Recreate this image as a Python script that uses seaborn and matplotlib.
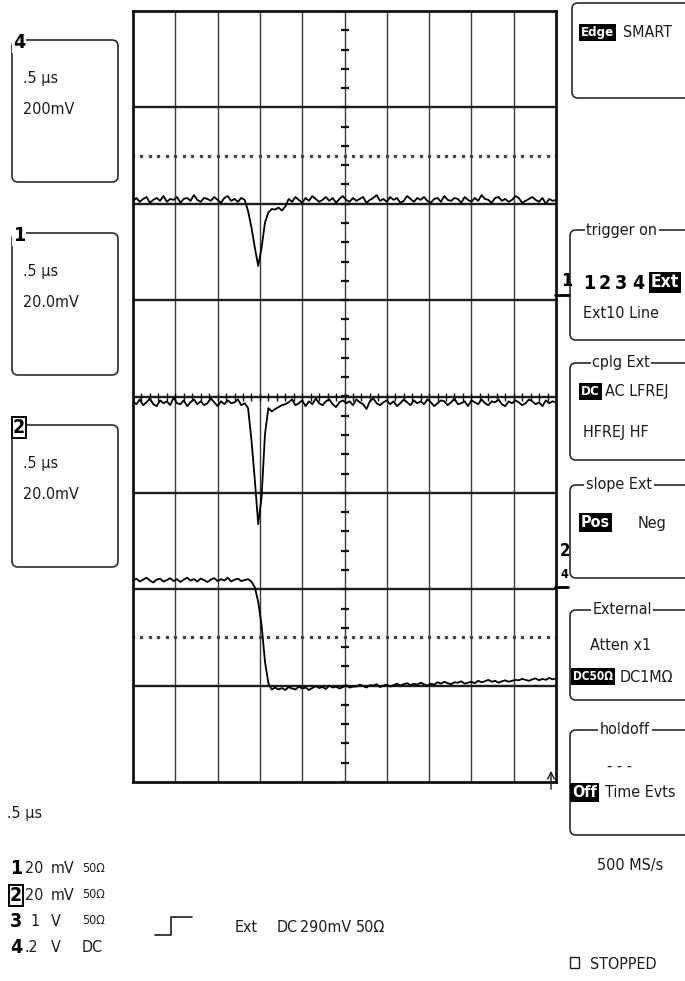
import numpy as np
import matplotlib
matplotlib.use("Agg")
import matplotlib.pyplot as plt
from matplotlib.patches import FancyBboxPatch, Rectangle
from matplotlib.collections import LineCollection
import seaborn as sns

sns.set_theme(style="white")
plt.rcParams["font.family"] = ["DejaVu Sans"]
plt.rcParams["font.stretch"] = "condensed"

# ---- acquisition settings -------------------------------------------------
TIME_PER_DIV_US = 0.5
N_DIV_X, N_DIV_Y = 10, 8

# ---- captured traces (mV, one sample every 0.04 us) -----------------------
ch4_mv = [6, 12, 4, 10, 14, 2, 8, 12, 6, 16, 4, 10, 8, 14, 2, 10, 12, 6, 18, 8,
          4, 12, 10, 6, 14, 8, 2, 12, 16, 6, 10, 4, 12, 8,
          -15, -49, -91, -129, -91, -39, -18, -11, -12, -8, -14, -6,
          10, 4, 14, 8, 2, 12, 6, 16, 10, 4, 8, 14, 6, 12, 2, 10, 16, 8, 4, 12,
          6, 10, 14, 2, 8, 12, 18, 6, 10, 4, 14, 8, 12, 2, 6, 16, 10, 4, 12, 8,
          14, 6, 2, 10, 12, 4, 16, 8, 6, 12, 10, 2, 14, 8, 4, 12, 6, 18, 10, 8,
          2, 12, 14, 6, 10, 4, 8, 16, 12, 2, 6, 10, 14, 8, 4, 12, 0, 10, 6, 8]

ch1_mv = [-1.0, -1.6, -0.6, -1.8, -1.2, -0.4, -1.6, -2.0, -0.8, -1.4,
          -1.0, -1.8, -0.2, -1.4, -1.6, -0.8, -2.0, -1.2, -0.6, -1.6,
          -1.0, -1.8, -1.4, -0.4, -1.2, -2.0, -1.0, -1.6, -0.8, -1.4,
          -1.2, -0.6, -1.8, -1.4,
          -2.4, -9.0, -17.3, -26.5, -20.8, -7.8, -2.4, -3.1, -2.6, -2.2, -1.8, -1.6,
          -1.2, -0.6, -1.8, -1.4, -0.8, -2.0, -1.0, -1.6, -0.4, -1.4,
          -1.8, -1.0, -0.6, -1.6, -2.2, -1.2, -0.8, -1.4, -1.0, -1.8,
          -0.6, -1.2, -1.6, -2.6, -1.0, -0.4, -1.4, -1.8, -1.2, -0.8,
          -1.6, -1.0, -2.0, -1.4, -0.6, -1.2, -1.8, -0.8, -1.4, -1.0,
          -1.6, -0.6, -1.2, -2.0, -1.4, -0.8, -1.0, -1.8, -1.2, -0.4,
          -1.6, -1.4, -1.0, -2.0, -0.8, -1.2, -1.6, -0.6, -1.4, -1.8,
          -1.0, -1.2, -0.6, -1.6, -2.0, -1.0, -1.4, -0.8, -1.2, -1.8,
          -1.4, -0.6, -1.0, -1.6, -1.2, -2.0, -0.8, -1.4, -1.0, -1.2]

ch2_mv = [1.8, 2.2, 1.6, 2.0, 2.4, 1.8, 1.4, 2.0, 2.2, 1.6,
          1.9, 2.3, 1.7, 2.1, 1.5, 2.0, 2.4, 1.8, 2.1, 1.6,
          2.2, 1.9, 1.5, 2.0, 2.3, 1.7, 2.1, 1.8, 2.4, 1.6,
          2.0, 2.2, 1.7, 1.9, 2.1,
          1.6, 0.4, -2.6, -7.5, -15.0, -19.5, -20.8,
          -20.4, -20.8, -20.5, -20.9, -20.3, -20.6, -20.8, -20.2, -20.6, -20.4, -20.9, -20.5,
          -20.1, -20.5, -20.3, -20.7, -20.0, -20.4, -20.2, -20.6, -20.3, -19.9, -20.4, -20.2,
          -20.2, -19.8, -20.1, -20.4, -19.9, -20.0, -19.7, -20.3, -20.0, -19.8, -20.2, -19.9,
          -19.6, -20.0, -19.7, -19.5, -19.9, -19.6, -19.8, -19.4, -19.7, -20.0, -19.6, -19.8,
          -19.3, -19.6, -19.2, -19.5, -19.7, -19.3, -19.4, -19.1, -19.6, -19.4, -19.2, -19.5,
          -19.0, -19.3, -19.1, -18.8, -19.2, -19.0, -19.4, -19.1, -18.9, -19.2, -19.0, -18.8,
          -18.9, -18.6, -18.8, -19.0, -18.7, -18.5, -18.9, -18.6, -18.8, -18.4, -18.7, -18.5]

traces = {"4": ch4_mv, "1": ch1_mv, "2": ch2_mv}
mv_per_div = {"4": 200.0, "1": 20.0, "2": 20.0}
offset_div = {"4": 2.0, "1": 0.0, "2": -2.0}

t_us = np.linspace(0, TIME_PER_DIV_US * N_DIV_X, len(ch4_mv))

# ---- figure / layout (pixel based) ----------------------------------------
W, H = 685, 981
fig = plt.figure(figsize=(W / 100, H / 100), dpi=100, facecolor="white")

gx0, gy0, gx1, gy1 = 133, 11, 556, 782
ax = fig.add_axes([gx0 / W, 1 - gy1 / H, (gx1 - gx0) / W, (gy1 - gy0) / H])
ax.set_facecolor("white")
xmax = TIME_PER_DIV_US * N_DIV_X
ax.set_xlim(0, xmax)
ax.set_ylim(-N_DIV_Y / 2, N_DIV_Y / 2)
px_x = (gx1 - gx0) / xmax          # pixels per microsecond
px_y = (gy1 - gy0) / N_DIV_Y       # pixels per division

# graticule
for i in range(1, N_DIV_X):
    ax.axvline(i * TIME_PER_DIV_US, color="#3a3a3a", lw=1.0, zorder=1)
for j in range(-3, 4):
    ax.axhline(j, color="#1e1e1e", lw=1.7, zorder=1)
dots_x = np.arange(0, xmax + 1e-9, TIME_PER_DIV_US / 5)
for yd in (2.5, -2.5):
    ax.plot(dots_x, np.full_like(dots_x, yd), ls="none", marker="s",
            ms=1.4, color="#444444", zorder=1)

# center-axis minor ticks
xc = xmax / 2
dx = 4 / px_x
dy = 4 / px_y
vt = [[(xc - dx, y), (xc + dx, y)] for y in np.arange(-4, 4.0001, 0.2)]
ht = [[(x, -dy), (x, dy)] for x in np.arange(0, xmax + 1e-9, TIME_PER_DIV_US / 5)]
ax.add_collection(LineCollection(vt, colors="#111111", linewidths=1.6, zorder=2))
ax.add_collection(LineCollection(ht, colors="#111111", linewidths=1.0, zorder=2))

for ch, vals in traces.items():
    y = offset_div[ch] + np.asarray(vals) / mv_per_div[ch]
    sns.lineplot(x=t_us, y=y, ax=ax, color="black", lw=1.3,
                 estimator=None, sort=False, zorder=3)

ax.set(xlabel="", ylabel="", xticks=[], yticks=[])
for s in ax.spines.values():
    s.set_visible(True)
    s.set_color("#111111")
    s.set_linewidth(2.0)

# ---- overlay for panels and readouts --------------------------------------
ov = fig.add_axes([0, 0, 1, 1], zorder=5)
ov.set_xlim(0, W)
ov.set_ylim(H, 0)
ov.axis("off")
ov.patch.set_alpha(0)

FS = 11.5
INK = "#1c1c1c"


def txt(x, yc, s, size=FS, weight="normal", color=INK, ha="left", **kw):
    cap = 0.72 * size * 100 / 72
    return ov.text(x, yc + cap / 2, s, fontsize=size, fontweight=weight,
                   color=color, ha=ha, va="baseline", **kw)


def inv(x, yc, s, size=FS, weight="bold"):
    return txt(x, yc, s, size=size, weight=weight, color="white",
               bbox=dict(fc="black", ec="none", pad=1.3))


def box(x0, y0, x1, y1, r=6):
    ov.add_patch(FancyBboxPatch((x0, y0), x1 - x0, y1 - y0,
                                boxstyle=f"round,pad=0,rounding_size={r}",
                                fc="none", ec="#2a2a2a", lw=1.2))


def title(xcen, y, s):
    ov.text(xcen, y, s, fontsize=FS, color=INK, ha="center", va="center",
            bbox=dict(fc="white", ec="none", pad=1.2))


# channel boxes on the left
left_boxes = [("4", 40, ".5 µs", "200mV"),
              ("1", 233, ".5 µs", "20.0mV"),
              ("2", 425, ".5 µs", "20.0mV")]
for lab, top, l1, l2 in left_boxes:
    box(12, top, 118, top + 142)
    kw = dict(bbox=dict(fc="white", ec="black", lw=1.4, pad=0.6)) if lab == "2" \
        else dict(bbox=dict(fc="white", ec="none", pad=0.8))
    txt(13, top + 1, lab, size=14, weight="bold", color="black", **kw)
    txt(23, top + 37, l1)
    txt(23, top + 68, l2)

# trigger menu on the right
box(572, 3, 700, 98)
inv(581, 31, "Edge", size=9.5)
txt(623, 31, "SMART")

box(570, 230, 700, 340)
title(622, 230, "trigger on")
for xd, d in zip((583, 599, 615, 632), "1234"):
    txt(xd, 282, d, size=14, weight="bold", color="black")
inv(651, 281, "Ext", size=12.5)
txt(583, 312, "Ext10 Line")

box(570, 363, 700, 460)
title(621, 363, "cplg Ext")
inv(581, 390, "DC", size=9.5)
txt(605, 390, "AC LFREJ")
txt(583, 431, "HFREJ HF")

box(570, 485, 700, 578)
title(619, 485, "slope Ext")
inv(581, 521, "Pos", size=11.5)
txt(638, 522, "Neg")

box(570, 610, 700, 700)
title(622, 610, "External")
txt(590, 644, "Atten x1")
inv(573, 676, "DC50Ω", size=8.5)
txt(620, 676, "DC1MΩ")

box(570, 730, 700, 835)
title(625, 730, "holdoff")
txt(607, 765, "- - -")
inv(572, 791, "Off", size=11.5)
txt(605, 791, "Time Evts")

# channel markers at the right edge of the graticule
txt(561, 280, "1", size=13, weight="bold", color="black")
ov.plot([555, 569], [295, 295], color="black", lw=2)
txt(560, 550, "2", size=12, weight="bold", color="black")
txt(561, 573, "4", size=9, weight="bold", color="black")
ov.plot([555, 568], [587, 587], color="black", lw=2)

# trigger position arrow
ov.annotate("", xy=(551, 768), xytext=(551, 792),
            arrowprops=dict(arrowstyle="->", lw=1.0, color=INK))

# bottom readouts
txt(7, 812, ".5 µs")
rows = [("1", "20", "mV", "50Ω", 867),
        ("2", "20", "mV", "50Ω", 894),
        ("3", "1", "V", "50Ω", 920),
        ("4", ".2", "V", "DC", 946)]
for lab, val, unit, cpl, yc in rows:
    kw = dict(bbox=dict(fc="white", ec="black", lw=1.4, pad=0.5)) if lab == "2" else {}
    txt(10, yc, lab, size=14, weight="bold", color="black", **kw)
    txt(25 if val != "1" else 30, yc, val)
    txt(51, yc, unit)
    txt(82, yc, cpl, size=9 if cpl != "DC" else FS)

ov.plot([155, 171, 171, 192], [935, 935, 917, 917], color=INK, lw=1.2)
txt(235, 926, "Ext")
txt(277, 926, "DC")
txt(300, 926, "290mV")
txt(356, 926, "50Ω")

txt(597, 864, "500 MS/s")
ov.add_patch(Rectangle((570, 957), 9, 11, fc="none", ec=INK, lw=1.0))
txt(590, 963, "STOPPED")

fig.savefig("out.png", dpi=100, facecolor="white")
